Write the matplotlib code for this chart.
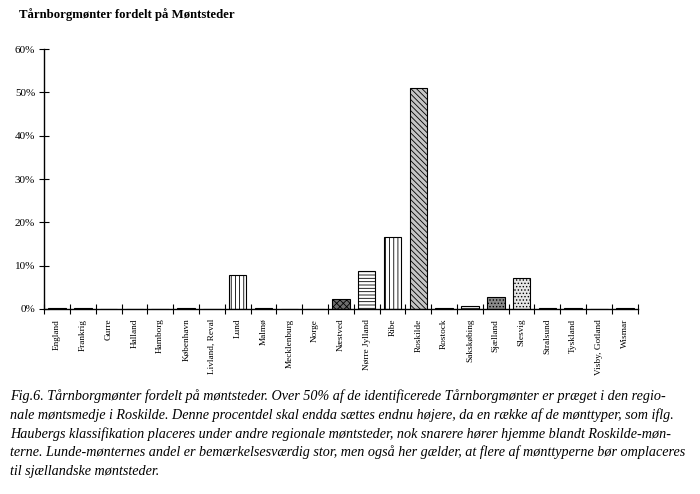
import matplotlib
matplotlib.use("Agg")
import matplotlib.pyplot as plt
import numpy as np

categories = ["England", "Frankrig", "Gurre", "Halland", "Hamborg", "København",
              "Livland, Reval", "Lund", "Malmø", "Mecklenburg", "Norge", "Næstved",
              "Nørre Jylland", "Ribe", "Roskilde", "Rostock", "Sakskøbing", "Sjælland",
              "Slesvig", "Stralsund", "Tyskland", "Visby, Gotland", "Wismar"]
values = [0.2, 0.2, 0.05, 0.05, 0.1, 0.3, 0.1, 7.8, 0.2, 0.05, 0.05, 2.2,
          8.8, 16.6, 51.0, 0.2, 0.7, 2.7, 7.2, 0.2, 0.2, 0.05, 0.2]
yticks = [0, 10, 20, 30, 40, 50, 60]
ytick_labels = ["0%", "10%", "20%", "30%", "40%", "50%", "60%"]

title = "Tårnborgmønter fordelt på Møntsteder"
caption = [
    "Fig.6. Tårnborgmønter fordelt på møntsteder. Over 50% af de identificerede Tårnborgmønter er præget i den regio-",
    "nale møntsmedje i Roskilde. Denne procentdel skal endda sættes endnu højere, da en række af de mønttyper, som iflg.",
    "Haubergs klassifikation placeres under andre regionale møntsteder, nok snarere hører hjemme blandt Roskilde-møn-",
    "terne. Lunde-mønternes andel er bemærkelsesværdig stor, men også her gælder, at flere af mønttyperne bør omplaceres",
    "til sjællandske møntsteder.",
]

# styles per bar (facecolor, hatch)
styles = {
    "Lund": ("white", "||||"),
    "Næstved": ("#6e6e6e", "xxxxx"),
    "Nørre Jylland": ("white", "-----"),
    "Ribe": ("white", "||||"),
    "Roskilde": ("#c4c4c4", "\\\\\\\\\\\\"),
    "Sakskøbing": ("white", "-----"),
    "Sjælland": ("#8a8a8a", "....."),
    "Slesvig": ("#e6e6e6", "....."),
}

plt.rcParams['font.family'] = ['Liberation Serif', 'DejaVu Serif']
plt.rcParams['hatch.linewidth'] = 0.6

fig = plt.figure(figsize=(7.0, 4.94), dpi=100)
ax = fig.add_axes([0.063, 0.3745, 0.848, 0.5263])

x = np.arange(len(categories))
for xi, cat, v in zip(x, categories, values):
    fc, h = styles.get(cat, ("#333333", None))
    ax.bar(xi, v, width=0.68, facecolor=fc, edgecolor="black", linewidth=0.8,
           hatch=h, zorder=2)

ax.set_xlim(-0.5, len(categories) - 0.5)
ax.set_ylim(0, 60)
ax.set_yticks(yticks)
ax.set_yticklabels(ytick_labels, fontsize=8)
ax.set_xticks(x)
ax.set_xticklabels(categories, rotation=90, fontsize=6.7)
ax.tick_params(axis='x', length=0, pad=7)
ax.set_xticks(np.arange(-0.5, len(categories), 1.0), minor=True)
ax.tick_params(axis='x', which='minor', direction='inout', length=7, width=0.8)
ax.tick_params(axis='y', direction='inout', length=7, width=0.8, pad=3)
for s in ['top', 'right']:
    ax.spines[s].set_visible(False)
ax.spines['left'].set_linewidth(1.0)
ax.spines['bottom'].set_linewidth(1.0)

fig.text(0.027, 1 - 18 / 494, title, fontsize=9.2, fontweight='bold',
         ha='left', va='baseline')

y0 = 1 - 400 / 494
dy = 18.8 / 494
for i, line in enumerate(caption):
    fig.text(0.015, y0 - i * dy, line, fontsize=10.2, style='italic',
             ha='left', va='baseline')

fig.savefig("out.png", dpi=100, facecolor='white')
